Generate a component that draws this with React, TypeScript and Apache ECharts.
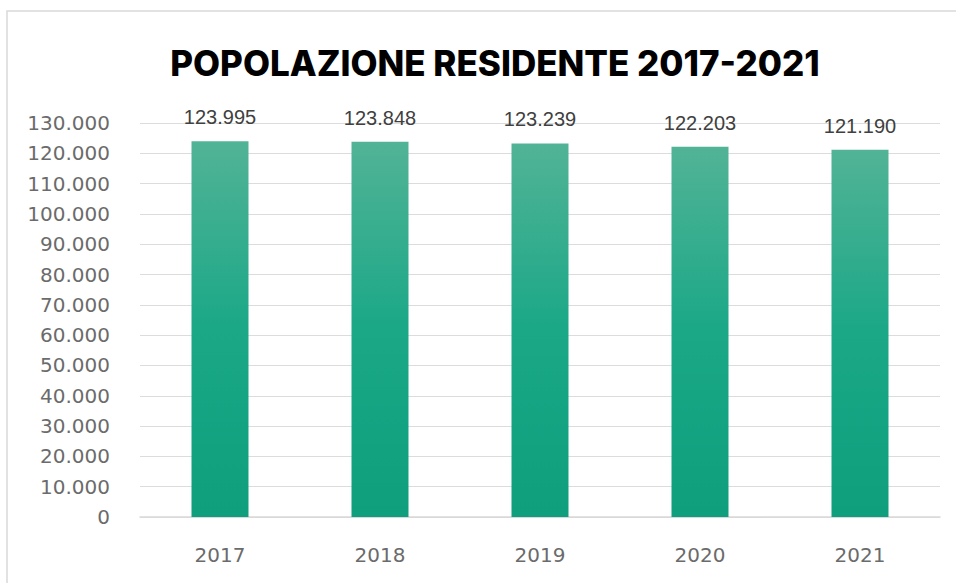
import React, { useEffect, useRef } from "react";
import * as echarts from "echarts";

const years = ["2017", "2018", "2019", "2020", "2021"];
const population = [123995, 123848, 123239, 122203, 121190];
const titleText = "POPOLAZIONE RESIDENTE 2017-2021";

const fmt = (v: number) => String(Math.round(v)).replace(/\B(?=(\d{3})+(?!\d))/g, ".");

export default function App() {
  const ref = useRef<HTMLDivElement>(null);
  useEffect(() => {
    if (!ref.current) return;
    const chart = echarts.init(ref.current, undefined, { renderer: "svg" });
    chart.setOption({
      animation: false,
      backgroundColor: "#ffffff",
      title: {
        text: titleText,
        left: 490,
        textAlign: "center",
        top: 40,
        textStyle: {
          fontFamily: "Inter",
          fontWeight: 800,
          fontSize: 35,
          color: "#000000",
        },
      },
      graphic: [
        {
          type: "rect",
          shape: { x: 7, y: 11, width: 960, height: 580 },
          style: { fill: "none", stroke: "#d9d9d9", lineWidth: 1.5 },
          silent: true,
        },
      ],
      grid: { left: 140, right: 16, top: 123, bottom: 66, containLabel: false },
      xAxis: {
        type: "category",
        data: years,
        axisLine: { show: true, lineStyle: { color: "#d9d9d9", width: 1.5 } },
        axisTick: { show: false },
        axisLabel: {
          margin: 28,
          fontFamily: "DejaVu Sans",
          fontSize: 20,
          color: "#6b6b6b",
        },
      },
      yAxis: {
        type: "value",
        min: 0,
        max: 130000,
        interval: 10000,
        axisLine: { show: false },
        axisTick: { show: false },
        splitLine: { lineStyle: { color: "#dcdcdc", width: 1.2 } },
        axisLabel: {
          margin: 30,
          fontFamily: "DejaVu Sans",
          fontSize: 20,
          color: "#6b6b6b",
          formatter: (v: number) => fmt(v),
        },
      },
      series: [
        {
          type: "bar",
          data: population,
          barWidth: 57,
          itemStyle: {
            color: new echarts.graphic.LinearGradient(0, 0, 0, 1, [
              { offset: 0, color: "#52b396" },
              { offset: 0.5, color: "#1aa887" },
              { offset: 1, color: "#0f9f7d" },
            ]),
          },
          label: {
            show: true,
            position: "top",
            distance: 14,
            fontFamily: "Liberation Sans",
            fontSize: 20,
            color: "#404040",
            formatter: (p: any) => fmt(p.value),
          },
        },
      ],
    });
    return () => chart.dispose();
  }, []);
  return (
    <div
      ref={ref}
      style={{ position: "fixed", left: 0, top: 0, width: 956, height: 583 }}
    />
  );
}
